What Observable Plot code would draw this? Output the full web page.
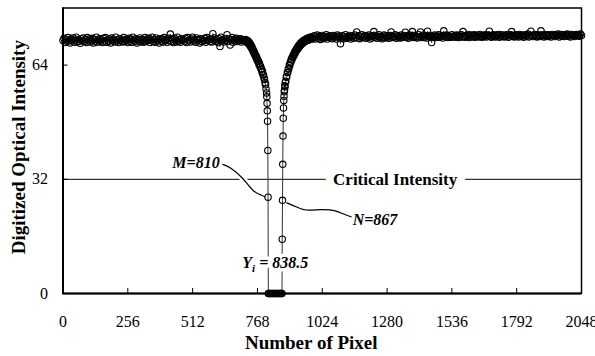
<!DOCTYPE html>
<html>
<head>
<meta charset="utf-8">
<script src="https://cdn.jsdelivr.net/npm/d3@7"></script>
<script src="https://cdn.jsdelivr.net/npm/@observablehq/plot@0.6"></script>
<style>
  html, body { margin: 0; padding: 0; background: white; }
</style>
</head>
<body>
<div id="chart"></div>
<script>
// ---- tick labels ----
const xTicks = [0, 256, 512, 768, 1024, 1280, 1536, 1792, 2048];
const yTicks = [0, 32, 64];
const criticalIntensity = 32;

// ---- series: digitized intensity per pixel ----
// left plateau, pixels 0..716 every 4
const leftFlatStart = 0;
const leftFlatY = [
  70.9,71.5,70.3,71.1,70.6,71.7,70.8,70.2,71.3,70.9,71.6,70.4,71.0,71.8,70.5,71.2,70.7,70.1,71.4,70.9,
  71.6,70.6,71.1,70.3,71.7,70.8,71.3,70.5,70.9,71.5,70.2,71.2,70.7,71.8,70.4,71.0,71.4,70.6,71.1,70.3,
  71.5,70.8,71.7,70.4,71.0,70.6,71.3,70.2,71.6,70.9,71.2,70.5,71.8,70.7,71.1,70.3,71.4,70.8,71.0,70.5,
  71.7,70.6,71.2,70.9,70.3,71.5,70.7,71.3,70.4,71.8,71.0,70.6,71.4,70.2,71.1,70.8,71.6,70.5,71.2,70.9,
  70.4,71.7,70.7,71.3,70.9,71.5,70.3,71.0,71.8,70.6,71.2,70.4,71.6,70.8,71.1,70.2,71.4,70.7,71.3,70.5,
  71.7,70.9,71.2,70.4,71.5,70.8,72.7,70.6,71.3,70.3,71.6,71.0,70.5,71.8,70.7,71.1,70.4,71.4,70.9,71.2,
  70.6,71.5,70.3,71.7,70.8,71.0,70.5,71.3,71.8,70.7,71.1,70.4,71.6,70.9,71.2,70.2,71.4,70.6,71.0,70.8,
  71.5,70.4,71.7,70.9,71.2,70.6,71.3,70.5,72.8,71.0,71.6,70.7,71.1,70.3,71.4,69.2,71.8,70.8,71.2,70.5,
  71.4,70.9,72.5,70.6,71.3,69.6,71.0,71.7,70.4,71.2,70.8,71.5,70.6,71.1,70.9,71.4,70.5,71.2,70.8,71.0
];
// dip region: [pixel, intensity]
const dipPoints = [
  [720,71.2],[722,70.6],[724,71.0],[726,70.3],[728,70.9],[730,70.2],[732,70.7],[734,69.9],[736,70.3],[738,69.5],
  [740,69.9],[742,69.1],[744,69.4],[746,68.6],[748,68.9],[750,68.0],[752,68.2],[754,67.3],[756,67.6],[758,66.8],
  [760,66.9],[762,66.2],[764,66.4],[766,65.5],[768,65.7],[770,65.0],[772,65.1],[774,64.2],[776,64.5],[778,63.6],
  [780,63.7],[782,62.9],[784,63.0],[786,62.1],[788,62.3],[790,61.3],[792,61.2],[794,60.4],[796,60.0],[798,59.1],
  [800,58.5],[802,57.3],[804,56.2],[805,55.1],[806,53.3],[807,51.2],[808,48.3],[809,40.1],[810,27.0],
  [811,0],[814,0],[818,0],[822,0],[826,0],[830,0],[834,0],[838,0],[842,0],[846,0],[850,0],[854,0],[858,0],[862,0],[865,0],
  [866,15.2],[867,26.1],[868,36.2],[869,44.1],[870,49.1],[871,52.0],[872,54.1],[873,55.3],[874,56.5],[875,57.0],
  [876,58.2],[877,57.9],[878,59.2],[880,59.5],[882,60.6],[884,60.8],[886,61.9],[888,62.0],[890,62.9],[892,63.0],
  [894,64.0],[896,63.9],[898,64.9],[900,64.8],[902,65.7],[904,65.5],[906,66.3],[908,66.1],[910,66.9],[912,66.7],
  [914,67.5],[916,67.2],[918,68.0],[920,67.8],[922,68.5],[924,68.2],[926,68.9],[928,68.6],[930,69.4],[932,69.0],
  [934,69.7],[936,69.4],[938,70.1],[940,69.7],[942,70.4],[944,70.0],[946,70.6],[948,70.2],[950,70.9],[952,70.4],
  [954,71.0],[956,70.6],[958,71.2],[960,70.8],[962,71.4],[964,70.9],[966,71.5],[968,71.0],[970,71.6],[972,71.1],
  [974,71.7],[976,71.2],[978,71.8],[980,71.3],[982,71.9],[984,71.4]
];
// right plateau, pixels 988..2048 every 4
const rightFlatStart = 988;
const rightFlatY = [
  71.6,72.2,71.3,71.9,72.4,71.5,72.0,71.2,71.8,72.3,71.4,72.1,71.7,72.5,71.3,71.9,72.2,71.6,72.0,71.4,
  72.3,71.7,72.0,71.3,72.4,71.8,72.1,70.0,71.6,72.2,71.4,71.9,72.5,71.5,72.0,71.7,72.3,71.3,71.9,72.1,
  71.5,72.4,71.8,73.3,71.6,72.2,71.4,72.0,72.5,71.7,71.9,72.3,71.5,72.1,71.8,72.4,71.3,72.0,71.6,72.2,
  73.4,71.8,72.3,71.5,72.0,72.5,71.7,72.1,71.4,71.9,72.4,71.6,72.2,71.8,72.0,71.5,72.3,73.3,71.7,72.1,
  71.9,72.5,71.5,72.2,71.8,72.0,71.6,72.4,71.7,72.1,72.3,73.2,71.8,72.0,71.5,72.4,71.9,72.2,73.4,71.7,
  72.3,71.8,72.0,71.6,72.5,71.9,73.3,72.1,71.7,72.4,71.8,72.2,71.6,73.5,72.0,72.3,71.8,70.3,72.1,71.9,
  72.4,71.7,72.2,71.9,72.5,71.8,72.0,72.3,71.6,73.6,72.1,71.9,72.4,71.7,72.2,72.0,71.8,72.5,71.9,72.1,
  72.3,71.8,72.4,72.0,71.7,72.2,72.5,71.9,73.4,72.1,71.8,72.3,72.0,72.6,71.7,72.2,72.4,71.9,72.1,72.5,
  71.8,72.3,72.0,72.4,71.9,72.6,72.1,71.8,72.3,72.0,72.5,71.9,72.2,72.4,73.5,72.0,71.8,72.3,72.5,72.1,
  71.9,72.4,72.2,72.6,71.8,72.1,72.5,72.0,72.3,71.9,72.4,72.1,72.6,71.8,72.2,72.5,73.4,72.0,72.3,71.9,
  72.5,72.1,72.4,71.9,72.6,72.2,72.0,72.4,71.8,72.3,72.5,72.1,72.7,71.9,72.3,73.5,72.2,72.0,72.4,72.6,
  72.1,71.9,72.5,72.3,72.0,73.6,72.4,72.2,71.9,72.6,72.1,72.4,72.0,72.5,72.3,71.9,72.6,72.2,72.4,72.0,
  72.5,72.2,72.7,71.9,72.3,72.6,72.1,72.4,72.0,72.5,72.3,72.7,72.1,72.4,71.9,72.6,72.2,72.5,72.0,72.4,
  72.6,72.2,72.5,72.1,72.7,72.3
];
const flatStep = 4;

// ---- annotations ----
const mLeaderX = [631, 663, 709, 749, 782, 797];
const mLeaderY = [36.2, 35.1, 32.3, 29.0, 27.6, 27.1];
const nLeaderX = [884, 920, 960, 1019, 1072, 1111, 1138];
const nLeaderY = [25.4, 24.3, 23.4, 23.5, 23.2, 22.2, 21.5];
const labelText = ["M=810", "N=867", "Yi = 838.5", "Critical Intensity"];
const labelX = [619, 1144, 838.5, 1312];
const labelY = [36.5, 20.7, 8.6, 32];
const xTitle = "Number of Pixel";
const yTitle = "Digitized Optical Intensity";

const pts = [];
leftFlatY.forEach((y, i) => pts.push({x: leftFlatStart + flatStep * i, y}));
dipPoints.forEach(([x, y]) => pts.push({x, y}));
rightFlatY.forEach((y, i) => pts.push({x: rightFlatStart + flatStep * i, y}));

const mLeader = mLeaderX.map((x, i) => ({x, y: mLeaderY[i]}));
const nLeader = nLeaderX.map((x, i) => ({x, y: nLeaderY[i]}));
const labels = labelText.map((t, i) => ({t, x: labelX[i], y: labelY[i]}));

const serif = '"Liberation Serif", "Times New Roman", serif';

const plot = Plot.plot({
  width: 595,
  height: 356,
  marginLeft: 62.5,
  marginRight: 14,
  marginTop: 7.5,
  marginBottom: 63,
  x: {domain: [0, 2048]},
  y: {domain: [0, 80]},
  style: {fontFamily: serif, fontSize: "16px", color: "black", background: "white", overflow: "visible"},
  marks: [
    Plot.ruleY([criticalIntensity], {stroke: "black", strokeWidth: 1}),
    Plot.line(pts, {x: "x", y: "y", stroke: "#333", strokeWidth: 1}),
    Plot.dot(pts, {x: "x", y: "y", r: 3.2, stroke: "black", strokeWidth: 1.1, fill: "none"}),
    Plot.line(mLeader.slice(0, 4), {x: "x", y: "y", stroke: "white", strokeWidth: 6, curve: "natural"}),
    Plot.line(mLeader, {x: "x", y: "y", stroke: "black", strokeWidth: 1.2, curve: "natural"}),
    Plot.line(nLeader, {x: "x", y: "y", stroke: "black", strokeWidth: 1.2, curve: "natural"}),
    Plot.text(labels.slice(0, 1), {x: "x", y: "y", text: "t", textAnchor: "end", fontWeight: "bold", fontStyle: "italic", fontSize: 16}),
    Plot.text(labels.slice(1, 2), {x: "x", y: "y", text: "t", textAnchor: "start", fontWeight: "bold", fontStyle: "italic", fontSize: 16}),
    Plot.text(labels.slice(2, 3), {x: "x", y: "y", text: "t", fontWeight: "bold", fontStyle: "italic", fontSize: 16, stroke: "white", strokeWidth: 7, fill: "black"}),
    Plot.text(labels.slice(3, 4), {x: "x", y: "y", text: "t", fontWeight: "bold", fontSize: 17, stroke: "white", strokeWidth: 16, fill: "black"}),
    Plot.frame({stroke: "black", strokeWidth: 1.5}),
    Plot.ruleY([0], {stroke: "black", strokeWidth: 2}),
    Plot.ruleX([0], {stroke: "black", strokeWidth: 2}),
    Plot.axisX(xTicks, {tickSize: -5, tickFormat: () => "", label: null}),
    Plot.axisX(xTicks, {tickSize: 0, tickPadding: 22, label: null, fontSize: 16, tickFormat: d => String(d)}),
    Plot.axisY(yTicks, {tickSize: -5, tickFormat: () => "", label: null}),
    Plot.axisY(yTicks, {tickSize: 0, tickPadding: 15, label: null, fontSize: 16, tickFormat: d => String(d)}),
    Plot.text([xTitle], {frameAnchor: "bottom", dx: -11, dy: 55, fontWeight: "bold", fontSize: 19}),
    Plot.text([yTitle], {x: -176, y: 41, rotate: -90, fontWeight: "bold", fontSize: 19})
  ]
});

// subscript for Y_i
d3.select(plot).selectAll("text")
  .filter(function() { return this.textContent === "Yi = 838.5"; })
  .each(function() {
    const t = d3.select(this);
    t.text("");
    t.append("tspan").text("Y");
    t.append("tspan").attr("font-size", 11).attr("dy", 4).text("i");
    t.append("tspan").attr("dy", -4).text(" = 838.5");
  });
d3.select(plot).selectAll("text").attr("paint-order", "stroke");

document.getElementById("chart").appendChild(plot);
</script>
</body>
</html>
